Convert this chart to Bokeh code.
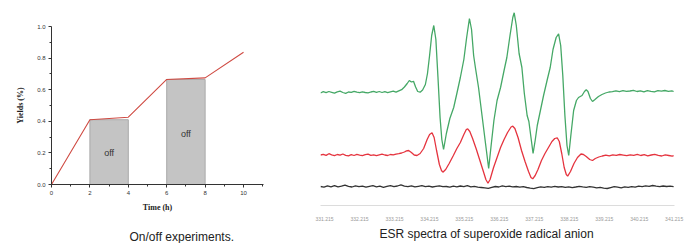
from bokeh.plotting import figure
from bokeh.layouts import row
from bokeh.models import Title, FixedTicker, Range1d
from bokeh.embed import file_html
from bokeh.resources import INLINE
from bokeh.core.properties import value

# ---------------- Left panel data: on/off experiments ----------------
time_h = [0, 2, 4, 6, 8, 10]
yields = [0.0, 0.41, 0.426, 0.665, 0.675, 0.837]
off_start = [2, 6]
off_end = [4, 8]
off_top = [0.41, 0.665]
off_text = ["off", "off"]
off_text_x = [3, 7]
off_text_y = [0.2, 0.32]
left_xticks = [0, 2, 4, 6, 8, 10]
left_xminor = [1, 3, 5, 7, 9, 11]
left_yticks = [0.0, 0.2, 0.4, 0.6, 0.8, 1.0]
left_yminor = [0.1, 0.3, 0.5, 0.7, 0.9]

# ---------------- Right panel data: ESR spectra ----------------
esr_ticks = [331.215, 332.215, 333.215, 334.215, 335.215, 336.215,
             337.215, 338.215, 339.215, 340.215, 341.215]

green_field = [
    331.10, 331.18, 331.26, 331.34, 331.42, 331.50, 331.58, 331.66, 331.74, 331.82,
    331.90, 331.98, 332.06, 332.14, 332.22, 332.30, 332.38, 332.46, 332.54, 332.62,
    332.70, 332.78, 332.86, 332.94, 333.02, 333.10, 333.18, 333.26, 333.34, 333.42,
    333.50, 333.58, 333.64, 333.70, 333.76, 333.82, 333.88, 333.95, 334.02, 334.10,
    334.16, 334.22, 334.28, 334.34, 334.40, 334.46, 334.52, 334.57, 334.62, 334.70,
    334.80, 334.91, 335.00, 335.10, 335.20, 335.28, 335.36, 335.42, 335.48, 335.53,
    335.62, 335.72, 335.82, 335.91, 335.98, 336.06, 336.15, 336.25, 336.35, 336.43,
    336.52, 336.60, 336.64, 336.70, 336.78, 336.86, 336.93, 337.01, 337.06, 337.12,
    337.18, 337.24, 337.30, 337.39, 337.48, 337.58, 337.67, 337.75, 337.84, 337.91,
    337.97, 338.03, 338.09, 338.15, 338.20, 338.26, 338.34, 338.42, 338.48, 338.58,
    338.65, 338.70, 338.75, 338.82, 338.88, 338.95, 339.05, 339.15, 339.25, 339.35,
    339.45, 339.55, 339.65, 339.75, 339.85, 339.95, 340.05, 340.15, 340.25, 340.35,
    340.45, 340.55, 340.65, 340.75, 340.85, 340.95, 341.05, 341.15, 341.20,
]
green_signal = [
    112.5, 113.8, 112.9, 114.0, 113.2, 112.4, 113.6, 114.3, 113.0, 112.2,
    113.5, 113.1, 114.2, 113.4, 112.8, 113.6, 113.0, 112.7, 113.5, 114.1,
    113.2, 114.0, 113.0, 113.8, 112.9, 113.7, 114.4, 113.3, 114.6, 115.8,
    118.5, 122.0, 125.0, 123.5, 124.2, 118.5, 114.0, 113.3, 115.5, 121.0,
    132.0, 150.0, 170.0, 180.0, 166.0, 128.0, 88.0, 66.0, 56.0, 72.0,
    87.0, 98.0, 112.0, 128.0, 146.0, 168.0, 187.0, 176.0, 150.0, 138.0,
    118.0, 90.0, 62.0, 37.0, 60.0, 85.0, 105.0, 118.0, 135.0, 148.0,
    170.0, 188.0, 192.7, 180.0, 152.0, 138.0, 112.0, 90.0, 84.0, 68.0,
    52.0, 65.0, 80.0, 95.0, 110.0, 125.0, 138.0, 156.0, 168.0, 171.7,
    160.0, 130.0, 90.0, 60.0, 50.0, 70.0, 95.0, 105.0, 108.0, 110.0,
    114.0, 115.7, 114.0, 107.0, 104.0, 106.0, 109.0, 111.0, 112.5, 113.5,
    113.8, 114.6, 113.9, 114.8, 114.1, 114.5, 115.2, 114.0, 114.7, 113.6,
    114.9, 114.2, 113.7, 114.8, 114.3, 115.0, 114.2, 114.6, 114.0,
]

red_field = [
    331.10, 331.18, 331.26, 331.34, 331.42, 331.50, 331.58, 331.66, 331.74, 331.82,
    331.90, 331.98, 332.06, 332.14, 332.22, 332.30, 332.38, 332.46, 332.54, 332.62,
    332.70, 332.78, 332.86, 332.94, 333.02, 333.10, 333.18, 333.26, 333.34, 333.42,
    333.50, 333.56, 333.62, 333.70, 333.78, 333.86, 333.95, 334.05, 334.15, 334.22,
    334.29, 334.35, 334.42, 334.50, 334.56, 334.60, 334.68, 334.78, 334.90, 335.00,
    335.10, 335.20, 335.27, 335.31, 335.37, 335.45, 335.55, 335.65, 335.75, 335.83,
    335.89, 335.95, 336.05, 336.15, 336.25, 336.35, 336.45, 336.55, 336.60, 336.66,
    336.75, 336.85, 336.95, 337.05, 337.12, 337.17, 337.24, 337.32, 337.42, 337.52,
    337.62, 337.72, 337.80, 337.87, 337.93, 338.00, 338.07, 338.13, 338.17, 338.25,
    338.35, 338.45, 338.55, 338.62, 338.70, 338.80, 338.88, 338.96, 339.06, 339.16,
    339.26, 339.36, 339.46, 339.56, 339.66, 339.76, 339.86, 339.96, 340.06, 340.16,
    340.26, 340.36, 340.46, 340.56, 340.66, 340.76, 340.86, 340.96, 341.06, 341.16, 341.20,
]
red_signal = [
    50.5, 51.2, 50.1, 51.8, 50.6, 49.8, 51.0, 50.3, 51.5, 50.2,
    49.6, 50.8, 50.0, 51.1, 50.4, 49.9, 50.9, 51.4, 50.2, 50.7,
    49.8, 50.6, 51.3, 50.5, 50.0, 51.0, 50.6, 51.4, 51.8, 52.5,
    53.5, 54.6, 55.0, 53.0, 50.5, 50.0, 52.0, 57.0, 66.0, 71.0,
    72.7, 68.0, 55.0, 41.0, 35.0, 33.3, 36.0, 42.0, 50.0, 57.0,
    63.0, 71.0, 76.0, 76.7, 74.0, 67.0, 57.0, 46.0, 35.0, 26.0,
    22.3, 26.0, 38.0, 48.0, 58.0, 66.0, 73.0, 78.5, 79.3, 77.0,
    68.0, 55.0, 44.0, 34.0, 28.0, 26.7, 30.0, 36.0, 45.0, 52.0,
    58.0, 64.0, 67.0, 67.7, 64.0, 52.0, 38.0, 31.0, 29.3, 34.0,
    42.0, 48.0, 51.5, 51.0, 49.0, 46.0, 45.0, 47.0, 48.5, 49.5,
    50.3, 49.6, 50.6, 50.1, 51.0, 50.4, 49.8, 50.7, 50.2, 51.1,
    50.0, 50.8, 49.7, 50.5, 51.2, 50.1, 49.5, 50.6, 50.0, 49.3, 49.8,
]

black_field = [
    331.1, 331.2, 331.3, 331.4, 331.5, 331.6, 331.7, 331.8, 331.9, 332.0,
    332.1, 332.2, 332.3, 332.4, 332.5, 332.6, 332.7, 332.8, 332.9, 333.0,
    333.1, 333.2, 333.3, 333.4, 333.5, 333.6, 333.7, 333.8, 333.9, 334.0,
    334.1, 334.2, 334.3, 334.4, 334.5, 334.6, 334.7, 334.8, 334.9, 335.0,
    335.1, 335.2, 335.3, 335.4, 335.5, 335.6, 335.7, 335.8, 335.9, 336.0,
    336.1, 336.2, 336.3, 336.4, 336.5, 336.6, 336.7, 336.8, 336.9, 337.0,
    337.1, 337.2, 337.3, 337.4, 337.5, 337.6, 337.7, 337.8, 337.9, 338.0,
    338.1, 338.2, 338.3, 338.4, 338.5, 338.6, 338.7, 338.8, 338.9, 339.0,
    339.1, 339.2, 339.3, 339.4, 339.5, 339.6, 339.7, 339.8, 339.9, 340.0,
    340.1, 340.2, 340.3, 340.4, 340.5, 340.6, 340.7, 340.8, 340.9, 341.0,
    341.1, 341.2,
]
black_signal = [
    19.0, 18.4, 19.6, 18.7, 19.9, 18.6, 19.3, 20.4, 19.1, 18.5,
    19.7, 18.9, 19.4, 18.3, 19.2, 19.8, 18.7, 19.3, 18.2, 19.2,
    19.9, 18.8, 19.5, 20.6, 19.3, 18.9, 19.6, 18.6, 19.2, 19.8,
    18.9, 19.4, 18.5, 19.1, 19.7, 18.8, 19.0, 18.4, 19.3, 18.7,
    19.5, 18.9, 19.9, 18.6, 19.1, 18.4, 18.0, 17.6, 17.2, 18.1,
    19.0, 18.5, 19.6, 18.8, 19.3, 18.6, 19.0, 18.3, 18.8, 18.0,
    17.4, 16.9, 17.8, 18.6, 18.2, 18.9, 18.4, 19.1, 18.5, 18.9,
    18.2, 18.7, 17.9, 18.5, 19.2, 18.6, 18.1, 18.8, 18.3, 17.6,
    18.2, 17.4, 17.0, 17.9, 18.8, 18.3, 17.7, 18.6, 18.2, 18.9,
    18.4, 19.3, 18.8, 19.6, 19.1, 20.0, 19.4, 18.9, 19.5, 19.0,
    19.3, 18.8,
]

# ---------------- Left figure ----------------
p1 = figure(width=280, height=243, x_range=Range1d(0, 11.04), y_range=Range1d(0, 1.0),
            output_backend="svg", toolbar_location=None,
            min_border_left=51, min_border_right=17, min_border_top=26, min_border_bottom=59)
p1.frame_align = False
p1.title.visible = False
p1.outline_line_color = None
p1.grid.visible = False

p1.quad(left=off_start, right=off_end, bottom=0, top=off_top,
        fill_color="#c4c4c4", line_color="#a9a9a9", line_width=1)
p1.line(time_h, yields, line_color="#cf4a42", line_width=1.1)
p1.text(x=off_text_x, y=off_text_y, text=off_text, text_font=value("Liberation Sans"),
        text_font_size="9px", text_align="center", text_baseline="middle", text_color="#333333")

for ax in (p1.xaxis, p1.yaxis):
    ax.major_label_text_font = "Liberation Sans"
    ax.major_label_text_font_size = "6px"
    ax.major_label_text_color = "#333333"
    ax.axis_line_color = "#333333"
    ax.major_tick_line_color = "#333333"
    ax.minor_tick_line_color = "#333333"
    ax.major_tick_out = 3
    ax.major_tick_in = 0
    ax.minor_tick_out = 2
    ax.minor_tick_in = 0
    ax.axis_label_text_font = "Liberation Serif"
    ax.axis_label_text_font_style = "bold"
    ax.axis_label_text_font_size = "8px"
    ax.axis_label_text_color = "#222222"
    ax.major_label_standoff = 3

p1.xaxis.ticker = FixedTicker(ticks=left_xticks, minor_ticks=left_xminor)
p1.yaxis.ticker = FixedTicker(ticks=left_yticks, minor_ticks=left_yminor)
p1.yaxis.major_label_overrides = {t: f"{t:.1f}" for t in left_yticks}
p1.xaxis.axis_label = "Time (h)"
p1.yaxis.axis_label = "Yields (%)"
p1.xaxis.axis_label_standoff = 5
p1.yaxis.axis_label_standoff = 9

# spacer between axis and caption, then caption
p1.add_layout(Title(text=" ", text_font_size="10px", standoff=0), "below")
p1.add_layout(Title(text="On/off experiments.", align="left", offset=78, standoff=0,
                    text_font="Liberation Sans", text_font_size="12px",
                    text_font_style="normal", text_color="#222222"), "below")

# ---------------- Right figure ----------------
p2 = figure(width=420, height=243, x_range=Range1d(331.1, 341.225), y_range=Range1d(0, 200),
            output_backend="svg", toolbar_location=None,
            min_border_left=40, min_border_right=26, min_border_top=5, min_border_bottom=38)
p2.frame_align = False
p2.title.visible = False
p2.outline_line_color = None
p2.grid.visible = False
p2.yaxis.visible = False

p2.line(green_field, green_signal, line_color="#45a866", line_width=1.3)
p2.line(red_field, red_signal, line_color="#e5343f", line_width=1.3)
p2.line(black_field, black_signal, line_color="#333333", line_width=1.3)

p2.xaxis.ticker = FixedTicker(ticks=esr_ticks)
p2.xaxis.major_label_overrides = {t: f"{t:.3f}" for t in esr_ticks}
p2.xaxis.axis_line_color = "#dcdcdc"
p2.xaxis.major_tick_line_color = None
p2.xaxis.minor_tick_line_color = None
p2.xaxis.major_label_text_font = "Liberation Sans"
p2.xaxis.major_label_text_font_size = "5px"
p2.xaxis.major_label_text_color = "#999999"
p2.xaxis.major_label_standoff = 5

p2.add_layout(Title(text="ESR spectra of superoxide radical anion", align="left",
                    offset=59, standoff=2,
                    text_font="Liberation Sans", text_font_size="12px",
                    text_font_style="normal", text_color="#222222"), "below")

layout = row(p1, p2)
open("out.html", "w").write(file_html(layout, INLINE))
